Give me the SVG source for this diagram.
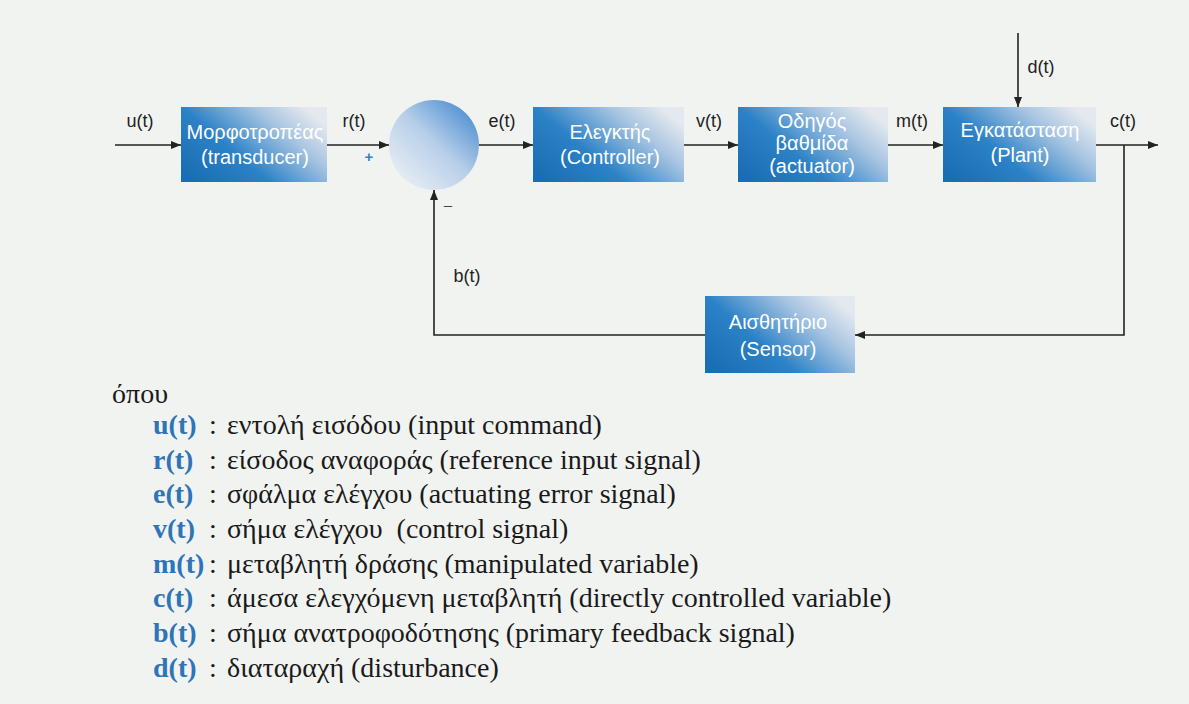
<svg xmlns="http://www.w3.org/2000/svg" width="1189" height="704" viewBox="0 0 1189 704">
<defs>
<linearGradient id="boxg" x1="0" y1="0.85" x2="1" y2="0.25">
<stop offset="0" stop-color="#1a6db3"/>
<stop offset="0.38" stop-color="#2c82c7"/>
<stop offset="0.75" stop-color="#a8c5e2"/>
<stop offset="1" stop-color="#e4e9ef"/>
</linearGradient>
<linearGradient id="circg" x1="0.15" y1="0.9" x2="0.9" y2="0.1">
<stop offset="0" stop-color="#e6ecf4"/>
<stop offset="0.5" stop-color="#b8cfe9"/>
<stop offset="1" stop-color="#4f8fd1"/>
</linearGradient>
<marker id="arr" viewBox="0 0 10 10" refX="10" refY="5" markerWidth="10" markerHeight="10" markerUnits="userSpaceOnUse" orient="auto">
<path d="M0,1 L10,5 L0,9 Z" fill="#222"/>
</marker>
<style>
.box{fill:url(#boxg);}
.bt{font-family:"Liberation Sans",Arial,sans-serif;font-size:20px;fill:#fff;text-anchor:middle;}
.lab{font-family:"Liberation Sans",Arial,sans-serif;font-size:18px;fill:#222;text-anchor:middle;}
.ln{fill:none;stroke:#222;stroke-width:1.6;}
.lg{font-family:"Liberation Serif","Times New Roman",serif;font-size:28px;fill:#1a1a1a;}
.lk{font-family:"Liberation Serif","Times New Roman",serif;font-size:28px;font-weight:bold;fill:#2f74b6;}
</style>
</defs>
<rect width="1189" height="704" fill="#f1f3f1"/>

<g id="connectors">
<line class="ln" x1="115" y1="145" x2="181" y2="145" marker-end="url(#arr)"/>
<line class="ln" x1="327" y1="145" x2="389" y2="145" marker-end="url(#arr)"/>
<line class="ln" x1="479" y1="145" x2="533" y2="145" marker-end="url(#arr)"/>
<line class="ln" x1="684" y1="145" x2="738" y2="145" marker-end="url(#arr)"/>
<line class="ln" x1="888" y1="145" x2="943" y2="145" marker-end="url(#arr)"/>
<line class="ln" x1="1096" y1="145" x2="1158" y2="145" marker-end="url(#arr)"/>
<line class="ln" x1="1018" y1="33" x2="1018" y2="107" marker-end="url(#arr)"/>
<polyline class="ln" points="1124,145 1124,335 855,335" marker-end="url(#arr)"/>
<polyline class="ln" points="705,335 434,335 434,190" marker-end="url(#arr)"/>
<text class="lab" x="140" y="127">u(t)</text>
<text class="lab" x="354" y="127">r(t)</text>
<text class="lab" x="502" y="127">e(t)</text>
<text class="lab" x="709" y="127">v(t)</text>
<text class="lab" x="912" y="127">m(t)</text>
<text class="lab" x="1041" y="73">d(t)</text>
<text class="lab" x="1123" y="127">c(t)</text>
<text class="lab" x="467" y="282">b(t)</text>
<text x="369" y="162" font-family="Liberation Sans,Arial,sans-serif" font-size="15" font-weight="bold" fill="#3a7fc0" text-anchor="middle">+</text>
<text x="448" y="210" font-family="Liberation Sans,Arial,sans-serif" font-size="15" fill="#444" text-anchor="middle">–</text>
</g>

<g id="transducer">
<rect class="box" x="181" y="107" width="146" height="75"/>
<text class="bt" x="255" y="139">Μορφοτροπέας</text>
<text class="bt" x="255" y="164">(transducer)</text>
</g>
<g id="summing">
<circle cx="434" cy="145" r="45" fill="url(#circg)"/>
</g>
<g id="controller">
<rect class="box" x="533" y="107" width="151" height="75"/>
<text class="bt" x="610" y="139">Ελεγκτής</text>
<text class="bt" x="610" y="164">(Controller)</text>
</g>
<g id="actuator">
<rect class="box" x="738" y="107" width="150" height="75"/>
<text class="bt" x="812" y="128">Οδηγός</text>
<text class="bt" x="812" y="150">βαθμίδα</text>
<text class="bt" x="812" y="173">(actuator)</text>
</g>
<g id="plant">
<rect class="box" x="943" y="107" width="153" height="75"/>
<text class="bt" x="1020" y="137">Εγκατάσταση</text>
<text class="bt" x="1020" y="162">(Plant)</text>
</g>
<g id="sensor">
<rect class="box" x="705" y="296" width="150" height="77"/>
<text class="bt" x="778" y="329">Αισθητήριο</text>
<text class="bt" x="778" y="356">(Sensor)</text>
</g>

<g id="legend">
<text class="lg" x="112" y="403">όπου</text>
<text class="lk" x="153" y="434">u(t)</text><text class="lg" x="209" y="434">:</text><text class="lg" x="227" y="434">εντολή εισόδου (input command)</text>
<text class="lk" x="153" y="469">r(t)</text><text class="lg" x="209" y="469">:</text><text class="lg" x="227" y="469">είσοδος αναφοράς (reference input signal)</text>
<text class="lk" x="153" y="503">e(t)</text><text class="lg" x="209" y="503">:</text><text class="lg" x="227" y="503">σφάλμα ελέγχου (actuating error signal)</text>
<text class="lk" x="153" y="538">v(t)</text><text class="lg" x="209" y="538">:</text><text class="lg" x="227" y="538">σήμα ελέγχου&#160; (control signal)</text>
<text class="lk" x="153" y="573">m(t)</text><text class="lg" x="209" y="573">:</text><text class="lg" x="227" y="573">μεταβλητή δράσης (manipulated variable)</text>
<text class="lk" x="153" y="607">c(t)</text><text class="lg" x="209" y="607">:</text><text class="lg" x="227" y="607">άμεσα ελεγχόμενη μεταβλητή (directly controlled variable)</text>
<text class="lk" x="153" y="642">b(t)</text><text class="lg" x="209" y="642">:</text><text class="lg" x="227" y="642">σήμα ανατροφοδότησης (primary feedback signal)</text>
<text class="lk" x="153" y="677">d(t)</text><text class="lg" x="209" y="677">:</text><text class="lg" x="227" y="677">διαταραχή (disturbance)</text>
</g>
</svg>
